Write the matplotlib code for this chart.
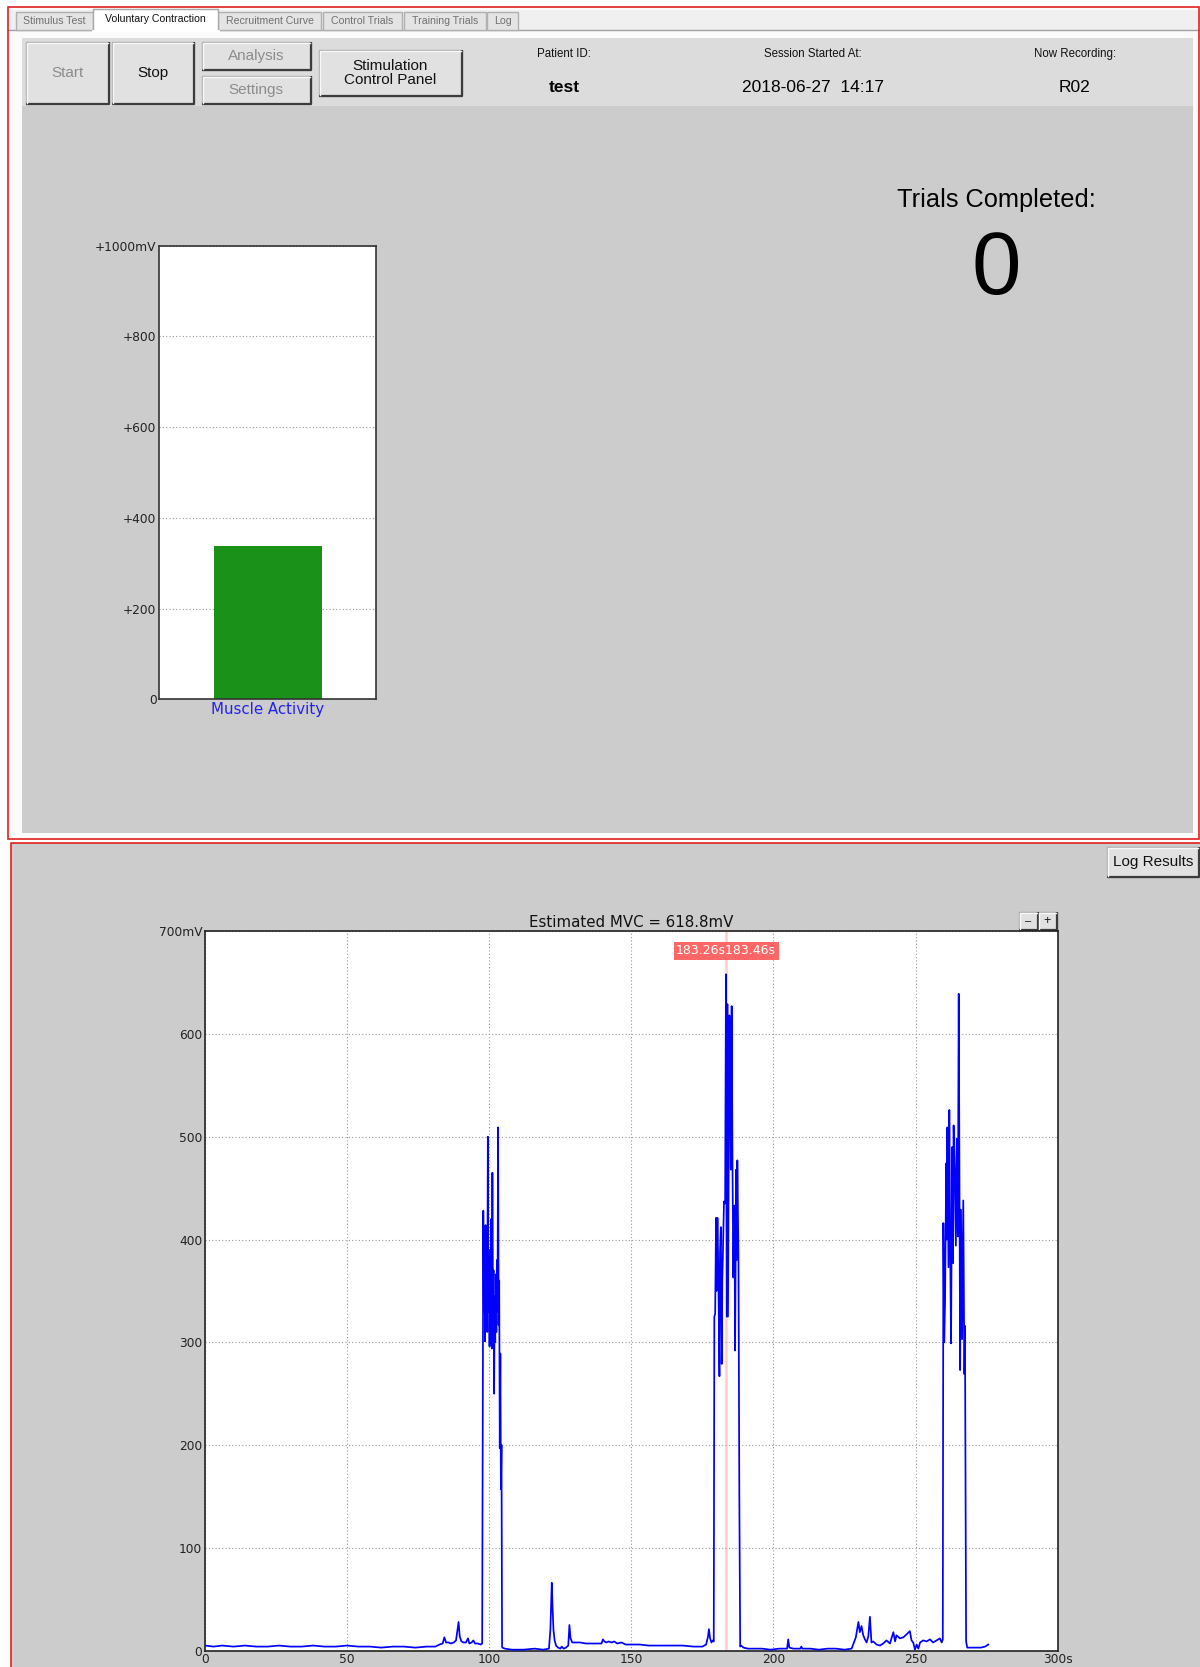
import matplotlib
matplotlib.use('Agg')
import matplotlib.pyplot as plt
from matplotlib.patches import Rectangle

W, H = 1200, 1667

# tab strip
tab_names = ['Stimulus Test', 'Voluntary Contraction', 'Recruitment Curve',
             'Control Trials', 'Training Trials', 'Log']
active_tab = 'Voluntary Contraction'

# session header
patient_id = 'test'
session_start = '2018-06-27  14:17'
recording_id = 'R02'
trials_completed = 0

# live muscle activity bar (mV)
activity_label = 'Muscle Activity'
activity_mv = 337
activity_ticks = [0, 200, 400, 600, 800, 1000]
activity_tick_labels = ['0', '+200', '+400', '+600', '+800', '+1000mV']

# recorded EMG trace (s, mV)
rest_a_t = [0, 3, 6, 10, 14, 18, 22, 26, 30, 34, 38, 42, 46, 50, 54, 58, 62, 66, 70, 74,
            78, 81, 82.5, 83.6, 84.2, 84.8, 85.6, 86.5, 87.5, 88.3, 88.8, 89.2, 89.6, 90.2,
            91.0, 91.8, 92.5, 93.0, 93.8, 94.4, 95.0, 96.0, 97.0, 97.5]
rest_a_v = [5, 4, 5, 4, 5, 4, 4, 5, 4, 4, 5, 4, 4, 5, 4, 4, 3, 4, 4, 3,
            4, 4, 6, 7, 13, 8, 8, 7, 8, 10, 20, 28, 14, 9,
            8, 8, 12, 7, 8, 10, 7, 7, 6, 7]
burst_a_t = [97.9, 98.1, 98.3, 98.5, 98.7, 98.9, 99.1, 99.3, 99.5, 99.7, 99.9, 100.1,
             100.3, 100.5, 100.7, 100.9, 101.1, 101.3, 101.5, 101.7, 101.9, 102.1, 102.3,
             102.5, 102.7, 102.9, 103.1, 103.3, 103.5, 103.7, 103.9, 104.1, 104.3, 104.5]
burst_a_v = [428, 330, 400, 301, 414, 320, 380, 310, 500, 330, 390, 296,
             387, 300, 420, 294, 465, 330, 370, 250, 345, 300, 366,
             310, 380, 330, 509, 317, 360, 197, 289, 157, 200, 4]
rest_b_t = [104.6, 105.5, 108, 112, 116, 119, 121.0, 121.5, 122.0, 122.3, 122.6, 123.0,
            123.5, 124.2, 125.0, 125.5, 126.2, 127.0, 127.8, 128.2, 128.6, 129.2, 130.5,
            132, 134, 136, 138, 139.5, 140.0, 140.5, 141.2, 142, 143, 144, 145, 146.5, 148,
            150, 153, 156, 160, 164, 168, 172, 175, 176.3, 177.0, 177.3, 177.7, 178.2,
            178.7, 179.0]
rest_b_v = [3, 2, 1, 1, 2, 1, 2, 20, 66, 40, 20, 10,
            5, 3, 2, 4, 2, 3, 5, 25, 12, 8, 8,
            8, 7, 7, 7, 7, 11, 9, 8, 9, 8, 9, 7, 8, 6,
            6, 6, 5, 5, 5, 5, 4, 4, 6, 14, 21, 12, 8,
            10, 9]
burst_b_t = [179.2, 179.5, 179.8, 180.0, 180.3, 180.6, 181.0, 181.2, 181.5, 181.8, 182.0,
             182.2, 182.6, 183.0, 183.3, 183.6, 183.8, 184.0, 184.3, 184.5, 184.8, 185.0,
             185.3, 185.6, 185.9, 186.1, 186.3, 186.5, 186.9, 187.1, 187.3, 187.7, 188.0,
             188.3]
burst_b_v = [325, 328, 421, 350, 421, 370, 267, 388, 412, 279, 360,
             383, 437, 435, 658, 325, 629, 325, 513, 618, 562, 468,
             627, 468, 363, 420, 433, 292, 468, 380, 477, 379, 150,
             4]
rest_c_t = [188.6, 189.5, 191, 193, 196, 199, 202, 204.8, 205.2, 205.6, 207, 209.5, 209.8,
            210.2, 213, 216, 219, 222, 225, 227.5, 229.0, 229.9, 230.4, 231.0, 231.6, 232.2,
            232.8, 233.4, 233.95, 234.5, 235.1, 236.3, 237.5, 238.6, 239.8, 241.0, 242.2,
            242.8, 243.3, 244.5, 245.7, 246.9, 248.0, 248.6, 249.2, 249.8, 250.4, 251.0,
            251.6, 252.7, 253.9, 255.1, 256.2, 257.4, 258.6, 259.2, 259.6]
rest_c_v = [5, 3, 2, 2, 2, 1, 2, 2, 11, 3, 2, 2, 4,
            2, 2, 1, 2, 2, 1, 2, 13, 28, 18, 24, 15, 11,
            8, 14, 33, 8, 9, 6, 5, 7, 10, 7, 18,
            9, 15, 12, 13, 16, 19, 10, 8, 1, 6, 2,
            8, 10, 9, 11, 8, 10, 12, 8, 11]
burst_c_t = [259.8, 260.1, 260.4, 260.8, 261.0, 261.2, 261.6, 261.9, 262.2, 262.5, 262.9,
             263.2, 263.4, 263.8, 264.2, 264.5, 264.9, 265.2, 265.4, 265.7, 266.0, 266.4,
             266.8, 267.2, 267.4, 267.8]
burst_c_v = [416, 300, 340, 474, 400, 509, 373, 526, 394, 299, 490,
             377, 511, 468, 394, 498, 403, 639, 507, 273, 429, 303,
             438, 269, 316, 9]
rest_d_t = [268.2, 269.5, 271, 273, 274.5, 275.6]
rest_d_v = [3, 3, 3, 3, 4, 6]

emg_t = rest_a_t + burst_a_t + rest_b_t + burst_b_t + rest_c_t + burst_c_t + rest_d_t
emg_v = rest_a_v + burst_a_v + rest_b_v + burst_b_v + rest_c_v + burst_c_v + rest_d_v

mvc_mv = 618.8
cursor_s = (183.26, 183.46)
trace_ticks_x = [0, 50, 100, 150, 200, 250, 300]
trace_labels_x = ['0', '50', '100', '150', '200', '250', '300s']
trace_ticks_y = [0, 100, 200, 300, 400, 500, 600, 700]
trace_labels_y = ['0', '100', '200', '300', '400', '500', '600', '700mV']

GUI_FONT = ['Liberation Sans', 'DejaVu Sans']
PLOT_FONT = ['DejaVu Sans']

fig = plt.figure(figsize=(W / 100, H / 100), dpi=100)
fig.patch.set_facecolor('white')

# whole-window canvas in pixel coordinates
ui = fig.add_axes([0, 0, 1, 1])
ui.set_xlim(0, W)
ui.set_ylim(H, 0)
ui.axis('off')


def box(x0, y0, x1, y1, fc, ec='none', lw=1.0, z=1):
    ui.add_patch(Rectangle((x0, y0), x1 - x0, y1 - y0, facecolor=fc,
                           edgecolor=ec, linewidth=lw, zorder=z))


def button(x0, y0, x1, y1, text, enabled=True, size=11, z=3):
    box(x0, y0, x1, y1, '#e1e1e1', '#adadad', 1.0, z)
    ui.plot([x0, x1, x1], [y1, y1, y0], color='#3c3c3c', lw=1.6, zorder=z + 0.1,
            solid_capstyle='butt')
    ui.plot([x0 + 1, x0 + 1, x1 - 1], [y1 - 1, y0 + 1, y0 + 1], color='#f8f8f8',
            lw=1.0, zorder=z + 0.1)
    ui.text((x0 + x1) / 2, (y0 + y1) / 2, text, ha='center', va='center',
            fontsize=size, family=GUI_FONT, color='#111111' if enabled else '#8c8c8c',
            linespacing=1.05, zorder=z + 0.2)


# ---- top panel ----
box(8, 7, 1199, 839, '#fbfbfb', 'none', z=0.5)
box(8, 10, 1199, 30, '#f0f0f0', z=0.6)
ui.plot([8, 1199], [30, 30], color='#a0a0a0', lw=1.0, zorder=0.7)

tab_x = [(16, 92.5), (92.5, 218), (218, 321), (323, 402), (404, 486), (487, 518)]
for name, (x0, x1) in zip(tab_names, tab_x):
    if name == active_tab:
        box(x0, 9, x1, 31, '#ffffff', '#a8a8a8', 1.0, z=1.2)
        ui.plot([x0 + 0.5, x1 - 0.5], [30.5, 30.5], color='white', lw=2, zorder=1.3)
        ui.text((x0 + x1) / 2, 19, name, ha='center', va='center', fontsize=7.6,
                family=GUI_FONT, color='#111111', zorder=1.4)
    else:
        box(x0, 12, x1, 30, '#e4e4e4', '#b0b0b0', 1.0, z=1.1)
        ui.text((x0 + x1) / 2, 21, name, ha='center', va='center', fontsize=7.6,
                family=GUI_FONT, color='#707070', zorder=1.4)

box(22, 38, 1193, 833, '#cccccc', z=0.8)
box(22, 38, 1193, 106, '#dcdcdc', z=0.9)

button(25.5, 41.5, 108.5, 104, 'Start', enabled=False)
button(111.5, 41.5, 193.5, 104, 'Stop')
button(202, 41.5, 310.5, 69.5, 'Analysis', enabled=False)
button(202, 75.5, 310.5, 104, 'Settings', enabled=False)
button(319, 50, 461.5, 96, 'Stimulation\nControl Panel')

for cx, head, value, size, weight in [(564, 'Patient ID:', patient_id, 12.5, 'bold'),
                                      (813, 'Session Started At:', session_start, 12.5, 'normal'),
                                      (1075, 'Now Recording:', recording_id, 12.5, 'normal')]:
    ui.text(cx, 54, head, ha='center', va='center', fontsize=8.3, family=GUI_FONT,
            color='#111111', zorder=2)
    ui.text(cx, 87, value, ha='center', va='center', fontsize=size, family=GUI_FONT,
            fontweight=weight, color='#000000', zorder=2)

ui.text(996, 200, 'Trials Completed:', ha='center', va='center', fontsize=18.3,
        family=GUI_FONT, color='#000000', zorder=2)
ui.text(996, 271, str(trials_completed), ha='center', va='center', fontsize=64,
        family=GUI_FONT, color='#000000', zorder=2)

ui.add_patch(Rectangle((8, 7), 1199 - 8, 839 - 7, facecolor='none', edgecolor='#e02020',
                       linewidth=1.2, zorder=5))

# ---- bottom panel ----
box(10.5, 843, W + 5, H + 5, '#cccccc', z=0.5)
ui.plot([10.5, 10.5, W + 5], [H + 5, 843, 843], color='#e02020', lw=1.2, zorder=5)
button(1107, 847, 1199, 877, 'Log Results', size=11)
button(1019, 912, 1038, 930, '\u2013', size=8)
button(1038, 912, 1057, 930, '+', size=9)

# ---- activity bar ----
ax1 = fig.add_axes([159.4 / W, 1 - 699.4 / H, 216.9 / W, 453.9 / H])
ax1.set_facecolor('white')
ax1.bar([0], [activity_mv], width=0.5, color='#1a921a', zorder=2)
ax1.set_xlim(-0.5, 0.5)
ax1.set_ylim(0, 1000)
ax1.set_yticks(activity_ticks)
ax1.set_yticklabels(activity_tick_labels, family=PLOT_FONT, fontsize=8.8, color='#222222')
ax1.set_xticks([0])
ax1.set_xticklabels([activity_label], family=PLOT_FONT, fontsize=10.8, color='#2222ee')
ax1.tick_params(length=0, pad=2)
ax1.grid(axis='y', color='#9a9a9a', linestyle=(0, (1, 2)), linewidth=0.8, zorder=1)
for sp in ax1.spines.values():
    sp.set_color('#333333')
    sp.set_linewidth(1.2)

# ---- EMG trace ----
ax2 = fig.add_axes([205.1 / W, 1 - 1650.7 / H, 852.5 / W, 719.6 / H])
ax2.set_facecolor('white')
ax2.axvline(sum(cursor_s) / 2, color='#ff9090', alpha=0.45, lw=1.8, zorder=2)
ax2.plot(emg_t, emg_v, color='#0000ff', lw=1.25, zorder=3)
ax2.set_xlim(0, 300)
ax2.set_ylim(0, 700)
ax2.set_xticks(trace_ticks_x)
ax2.set_xticklabels(trace_labels_x, family=PLOT_FONT, fontsize=8.8, color='#222222')
ax2.set_yticks(trace_ticks_y)
ax2.set_yticklabels(trace_labels_y, family=PLOT_FONT, fontsize=8.8, color='#222222')
ax2.tick_params(length=0, pad=2)
ax2.grid(True, color='#9a9a9a', linestyle=(0, (1, 2)), linewidth=0.8, zorder=1)
ax2.set_axisbelow(True)
for sp in ax2.spines.values():
    sp.set_color('#222222')
    sp.set_linewidth(1.2)
ax2.set_title('Estimated MVC = %.1fmV' % mvc_mv, family=PLOT_FONT, fontsize=10.8,
              color='#111111', pad=3)
ax2.text(sum(cursor_s) / 2, 681, '%.2fs%.2fs' % cursor_s, ha='center', va='center',
         fontsize=9, family=PLOT_FONT, color='white', zorder=4,
         bbox=dict(boxstyle='square,pad=0.2', facecolor='#ff6666', edgecolor='none'))

fig.savefig('out.png', dpi=100)
